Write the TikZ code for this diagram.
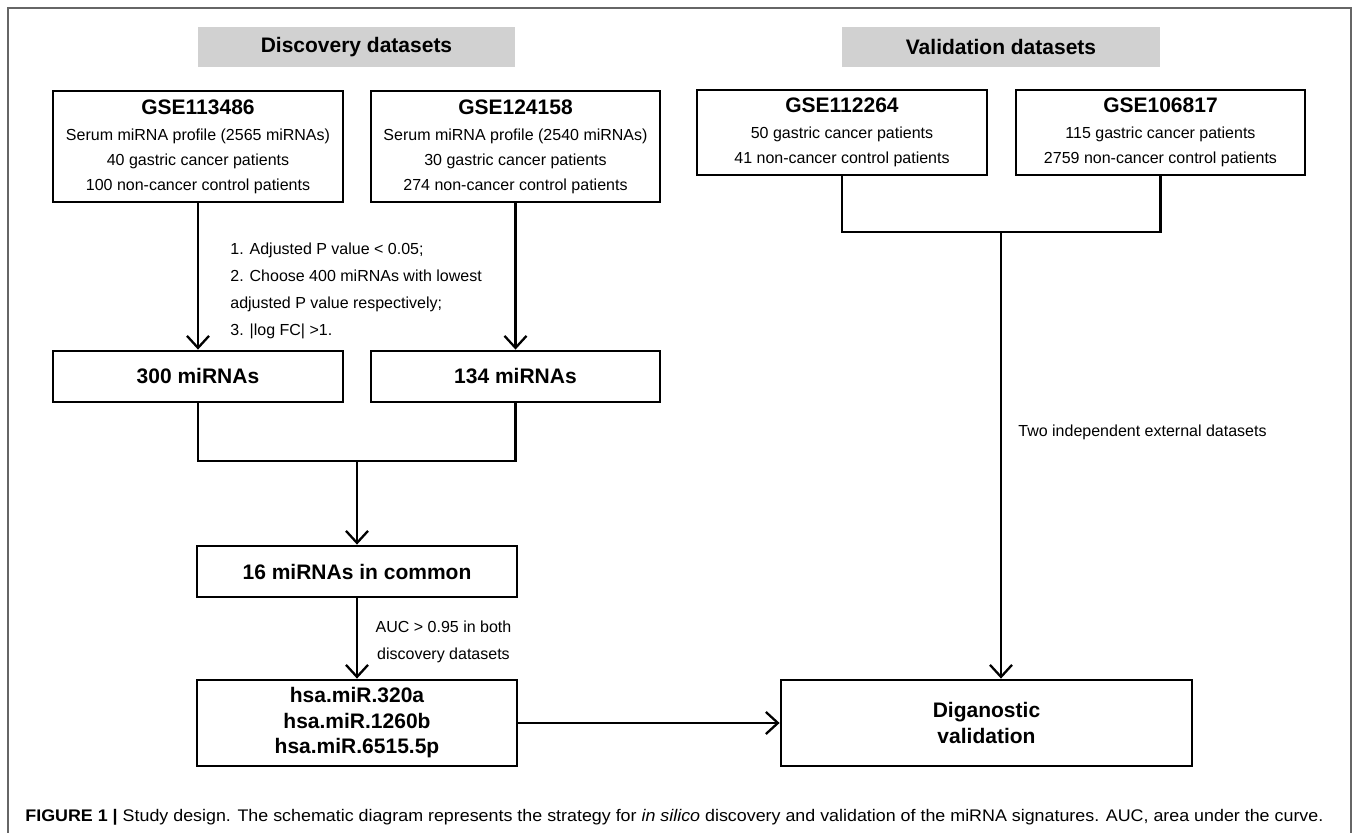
\documentclass[tikz,border=0pt]{standalone}
\usepackage{fontspec}
\usepackage{graphicx}
\setmainfont{Liberation Sans}
\usetikzlibrary{arrows.meta}

\newcommand{\gsetitle}[1]{{\fontsize{10.5pt}{12.5pt}\selectfont\bfseries #1}}
\newsavebox\capbox
\newlength\capwd

\tikzset{
	frame/.style={draw=black!60, line width=0.7pt},
	headbox/.style={fill=black!18, inner sep=0pt, minimum height=20pt, font=\fontsize{10.5pt}{12.5pt}\selectfont\bfseries},
	dbox/.style={draw=black, line width=1.4pt, inner sep=0pt, align=center, font=\fontsize{8pt}{12.5pt}\selectfont},
	mbox/.style={draw=black, line width=1.4pt, inner sep=0pt, align=center, font=\fontsize{10.5pt}{12.75pt}\selectfont\bfseries},
	link/.style={line width=1.15pt, line join=miter},
	arr/.style={->, line width=1.15pt},
	note/.style={inner sep=0pt, font=\fontsize{8pt}{13.5pt}\selectfont}
}

\begin{document}
\sbox\capbox{\fontsize{8.4pt}{10pt}\selectfont\textbf{FIGURE 1 \textbar} Study design. The schematic diagram represents the strategy for \textit{in silico} discovery and validation of the miRNA signatures. AUC, area under the curve.}%
\setlength\capwd{\wd\capbox}%
\pgfmathsetmacro\capsx{649/\capwd}%
\begin{tikzpicture}[x=0.5pt, y=-0.5pt, >={Straight Barb[length=6pt,width=11pt]}]
		%%%%% START %%%%%
		\useasboundingbox (0,0) rectangle (1357,833);
		\draw[frame] (8,833) -- (8,8) -- (1351,8) -- (1351,833);
		
		\node[headbox, minimum width=158.5pt] (disc) at (356.5,47) {Discovery datasets};
		\node[headbox, minimum width=159pt] (valid) at (1001,47) {Validation datasets};
		
		\node[dbox, minimum width=145pt, minimum height=55.5pt] (gseA) at (198,146.5) {\gsetitle{GSE113486}\\[0.6pt] Serum miRNA profile (2565 miRNAs)\\ 40 gastric cancer patients\\ 100 non-cancer control patients};
		\node[dbox, minimum width=144.5pt, minimum height=55.5pt] (gseB) at (515.5,146.5) {\gsetitle{GSE124158}\\[0.6pt] Serum miRNA profile (2540 miRNAs)\\ 30 gastric cancer patients\\ 274 non-cancer control patients};
		\node[dbox, minimum width=145pt, minimum height=42.5pt] (gseC) at (842,132.5) {\gsetitle{GSE112264}\\[0.6pt] 50 gastric cancer patients\\ 41 non-cancer control patients};
		\node[dbox, minimum width=144.5pt, minimum height=42.5pt] (gseD) at (1160.5,132.5) {\gsetitle{GSE106817}\\[0.6pt] 115 gastric cancer patients\\ 2759 non-cancer control patients};
		
		\node[mbox, minimum width=145pt, minimum height=25.5pt] (mirA) at (198,376.5) {300 miRNAs};
		\node[mbox, minimum width=144.5pt, minimum height=25.5pt] (mirB) at (515.5,376.5) {134 miRNAs};
		\node[mbox, minimum width=160pt, minimum height=25.5pt] (common) at (357,571.5) {16 miRNAs in common};
		\node[mbox, minimum width=160pt, minimum height=43pt] (hsa) at (357,723) {hsa.miR.320a\\ hsa.miR.1260b\\ hsa.miR.6515.5p};
		\node[mbox, minimum width=205.5pt, minimum height=43pt] (diag) at (986.5,723) {Diganostic\\ validation};
		
		\coordinate (mrg) at (357,461);
		\coordinate (vmrg) at (1001,232);
		
		\draw[arr] (gseA.south) -- (mirA.north);
		\draw[arr] (gseB.south) -- (mirB.north);
		\draw[link] (mirA.south) |- (mrg) -| (mirB.south);
		\draw[arr] (mrg) -- (common.north);
		\draw[arr] (common.south) -- (hsa.north);
		\draw[link] (gseC.south) |- (vmrg) -| (gseD.south);
		\draw[arr] (vmrg) -- (vmrg |- diag.north);
		\draw[arr] (hsa.east) -- (diag.west);
		
		\node[note, anchor=north west, align=left] (crit) at (230,243) {1. Adjusted P value < 0.05;\\ 2. Choose 400 miRNAs with lowest\\ adjusted P value respectively;\\ 3. |log FC| >1.};
		\node[note, anchor=north, align=center] (auc) at (443.5,620.5) {AUC > 0.95 in both\\ discovery datasets};
		\node[note, anchor=north west] (ext) at (1018,425) {Two independent external datasets};
		
		\node[inner sep=0pt, anchor=north west] (cap) at (25,809) {\scalebox{\capsx}[1]{\usebox\capbox}};
		%%%%% END %%%%%
\end{tikzpicture}
\end{document}
